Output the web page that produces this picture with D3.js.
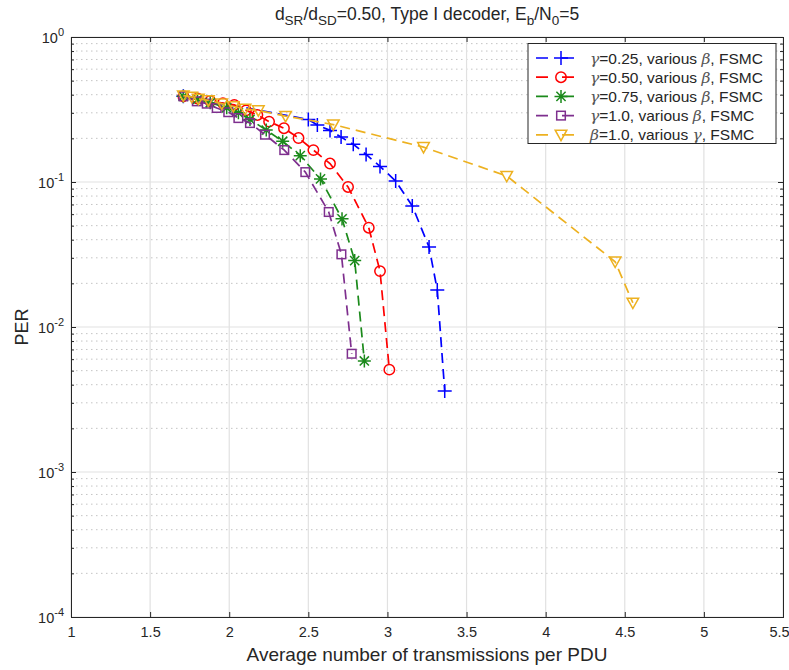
<!DOCTYPE html>
<html><head><meta charset="utf-8">
<script src="https://cdn.jsdelivr.net/npm/d3@7"></script>
<style>
body{margin:0;background:#fff;}
text{font-family:"Liberation Sans",Arial,sans-serif;fill:#262626;}
</style></head>
<body><svg id="c" width="789" height="670"></svg>
<script>
// ---- data ----
const blueX = [1.71, 2.50, 2.557, 2.637, 2.707, 2.784, 2.865, 2.953, 3.052, 3.157, 3.263, 3.315, 3.362];
const blueY = [0.39, 0.270, 0.247, 0.227, 0.204, 0.182, 0.155, 0.128, 0.1016, 0.0683, 0.0356, 0.0180, 0.00362];
const redX = [1.71, 1.80, 1.88, 1.96, 2.032, 2.106, 2.178, 2.252, 2.346, 2.438, 2.532, 2.637, 2.751, 2.882, 2.953, 3.012];
const redY = [0.39, 0.377, 0.362, 0.350, 0.340, 0.312, 0.290, 0.261, 0.235, 0.201, 0.166, 0.134, 0.0924, 0.0484, 0.0243, 0.00508];
const greenX = [1.71, 1.80, 1.88, 1.984, 2.058, 2.131, 2.234, 2.338, 2.449, 2.577, 2.713, 2.793, 2.854];
const greenY = [0.39, 0.372, 0.352, 0.325, 0.300, 0.270, 0.228, 0.191, 0.152, 0.105, 0.0557, 0.0287, 0.00583];
const purpleX = [1.71, 1.795, 1.858, 1.921, 1.994, 2.058, 2.131, 2.226, 2.348, 2.481, 2.629, 2.709, 2.774];
const purpleY = [0.39, 0.360, 0.347, 0.324, 0.303, 0.276, 0.255, 0.212, 0.166, 0.117, 0.0621, 0.0317, 0.00654];
const orangeX = [1.71, 1.763, 1.805, 1.868, 1.953, 2.026, 2.10, 2.184, 2.356, 2.658, 3.228, 3.754, 4.439, 4.551];
const orangeY = [0.394, 0.386, 0.374, 0.366, 0.347, 0.333, 0.319, 0.312, 0.285, 0.249, 0.174, 0.110, 0.0282, 0.0147];
const xTicks = [1, 1.5, 2, 2.5, 3, 3.5, 4, 4.5, 5, 5.5];
const yExponents = [0, -1, -2, -3, -4];
const seriesNames = ["γ|=0.25, various |β|, FSMC", "γ|=0.50, various |β|, FSMC", "γ|=0.75, various |β|, FSMC", "γ|=1.0, various |β|, FSMC", "β|=1.0, various |γ|, FSMC"];

const series = [
  {x: blueX, y: blueY, color: "#0000ff", marker: "plus"},
  {x: redX, y: redY, color: "#ff0000", marker: "circle"},
  {x: greenX, y: greenY, color: "#1b8a1b", marker: "star"},
  {x: purpleX, y: purpleY, color: "#7e2f8e", marker: "square"},
  {x: orangeX, y: orangeY, color: "#edb120", marker: "tri"}
];

const W = 789, H = 670;
const m = {l: 71, r: 6, t: 37, b: 53};
const svg = d3.select("#c");
const x = d3.scaleLinear().domain([1, 5.5]).range([m.l, W - m.r]);
const y = d3.scaleLog().domain([1e-4, 1]).range([H - m.b, m.t]);

// grid
const g = svg.append("g");
const minor = [];
for (let e = -4; e < 0; e++) for (let k = 2; k <= 9; k++) minor.push(k * Math.pow(10, e));
g.selectAll(".mn").data(minor).enter().append("line")
  .attr("x1", m.l).attr("x2", W - m.r).attr("y1", d => y(d)).attr("y2", d => y(d))
  .attr("stroke", "#c4c4c4").attr("stroke-width", 1).attr("stroke-dasharray", "1.5,3.5");
g.selectAll(".vx").data(xTicks).enter().append("line")
  .attr("x1", d => x(d)).attr("x2", d => x(d)).attr("y1", m.t).attr("y2", H - m.b)
  .attr("stroke", "#e1e1e1").attr("stroke-width", 1.2);
g.selectAll(".hy").data(yExponents).enter().append("line")
  .attr("x1", m.l).attr("x2", W - m.r).attr("y1", d => y(Math.pow(10, d))).attr("y2", d => y(Math.pow(10, d)))
  .attr("stroke", "#e1e1e1").attr("stroke-width", 1.2);

// axes
const ax = svg.append("g").attr("transform", `translate(0,${H - m.b})`)
  .call(d3.axisBottom(x).tickValues(xTicks).tickSize(-5).tickPadding(10).tickFormat(d3.format("")));
svg.append("g").attr("transform", `translate(0,${m.t})`)
  .call(d3.axisTop(x).tickValues(xTicks).tickSize(-5).tickFormat(""));
const allY = yExponents.map(e => Math.pow(10, e));
svg.append("g").attr("transform", `translate(${m.l},0)`)
  .call(d3.axisLeft(y).tickValues(allY).tickSize(-5).tickFormat(""));
svg.append("g").attr("transform", `translate(${W - m.r},0)`)
  .call(d3.axisRight(y).tickValues(allY).tickSize(-5).tickFormat(""));
svg.append("g").attr("transform", `translate(${m.l},0)`)
  .call(d3.axisLeft(y).tickValues(minor).tickSize(-3).tickFormat(""));
svg.append("g").attr("transform", `translate(${W - m.r},0)`)
  .call(d3.axisRight(y).tickValues(minor).tickSize(-3).tickFormat(""));
svg.selectAll(".domain").attr("stroke", "#262626").attr("stroke-width", 1);
svg.selectAll(".tick line").attr("stroke", "#262626");
ax.selectAll("text").attr("font-size", 14.5).attr("font-family", "Liberation Sans").attr("fill", "#262626")
  .attr("dx", d => d === 5.5 ? -4 : 0);

// y tick labels 10^e
const yl = svg.append("g");
yExponents.forEach(e => {
  const t = yl.append("text").attr("x", m.l - 7).attr("y", y(Math.pow(10, e)) + 6)
    .attr("text-anchor", "end").attr("font-size", 14.5);
  t.append("tspan").text("10");
  t.append("tspan").attr("dy", -7).attr("font-size", 11).text(String(e));
});

// lines & markers
const line = d3.line().x(d => x(d[0])).y(d => y(d[1]));
function drawMarker(sel, type, color) {
  if (type === "plus") {
    sel.append("path").attr("d", "M-7,0H7M0,-7V7").attr("stroke", color).attr("stroke-width", 1.5).attr("fill", "none");
  } else if (type === "circle") {
    sel.append("circle").attr("r", 5.2).attr("stroke", color).attr("stroke-width", 1.5).attr("fill", "none");
  } else if (type === "star") {
    sel.append("path").attr("d", "M-6.5,0H6.5M0,-6.5V6.5M-4.6,-4.6L4.6,4.6M-4.6,4.6L4.6,-4.6").attr("stroke", color).attr("stroke-width", 1.5).attr("fill", "none");
  } else if (type === "square") {
    sel.append("rect").attr("x", -4.3).attr("y", -4.3).attr("width", 8.6).attr("height", 8.6).attr("stroke", color).attr("stroke-width", 1.5).attr("fill", "none");
  } else if (type === "tri") {
    sel.append("path").attr("d", "M-5.8,-4.6L5.8,-4.6L0,5.8Z").attr("stroke", color).attr("stroke-width", 1.5).attr("fill", "none");
  }
}
const plot = svg.append("g");
series.forEach(s => {
  const pts = s.x.map((v, i) => [v, s.y[i]]);
  plot.append("path").datum(pts).attr("d", line).attr("fill", "none")
    .attr("stroke", s.color).attr("stroke-width", 1.7).attr("stroke-dasharray", "10,6");
  pts.forEach(p => {
    const mg = plot.append("g").attr("transform", `translate(${x(p[0])},${y(p[1])})`);
    drawMarker(mg, s.marker, s.color);
  });
});

// legend
const lg = svg.append("g");
lg.append("rect").attr("x", 528).attr("y", 43.5).attr("width", 248).attr("height", 100)
  .attr("fill", "#fff").attr("stroke", "#262626").attr("stroke-width", 1);
series.forEach((s, i) => {
  const yy = 58 + i * 19.2;
  lg.append("line").attr("x1", 536).attr("x2", 586).attr("y1", yy).attr("y2", yy)
    .attr("stroke", s.color).attr("stroke-width", 1.7).attr("stroke-dasharray", "12,14");
  const mg = lg.append("g").attr("transform", `translate(561,${yy})`);
  drawMarker(mg, s.marker, s.color);
  const parts = seriesNames[i].split("|");
  const t = lg.append("text").attr("x", 590).attr("y", yy + 5.5).attr("font-size", 15.5);
  parts.forEach((p, j) => {
    const isGreek = (p === "γ" || p === "β");
    t.append("tspan").text(p).attr("font-style", isGreek ? "italic" : null)
      .attr("font-family", isGreek ? "DejaVu Serif" : null).attr("fill", isGreek ? "#555" : null);
  });
});

// title
const tt = svg.append("text").attr("x", (m.l + W - m.r) / 2).attr("y", 20).attr("text-anchor", "middle").attr("font-size", 17.5);
tt.append("tspan").text("d");
tt.append("tspan").attr("dy", 5).attr("font-size", 13.5).text("SR");
tt.append("tspan").attr("dy", -5).text("/d");
tt.append("tspan").attr("dy", 5).attr("font-size", 13.5).text("SD");
tt.append("tspan").attr("dy", -5).text("=0.50, Type I decoder, E");
tt.append("tspan").attr("dy", 5).attr("font-size", 13.5).text("b");
tt.append("tspan").attr("dy", -5).text("/N");
tt.append("tspan").attr("dy", 5).attr("font-size", 13.5).text("0");
tt.append("tspan").attr("dy", -5).text("=5");

// axis labels
svg.append("text").attr("x", (m.l + W - m.r) / 2).attr("y", 661).attr("text-anchor", "middle")
  .attr("font-size", 19).text("Average number of transmissions per PDU");
svg.append("text").attr("transform", `translate(28,${(m.t + H - m.b) / 2}) rotate(-90)`)
  .attr("text-anchor", "middle").attr("font-size", 18).text("PER");
</script></body></html>
